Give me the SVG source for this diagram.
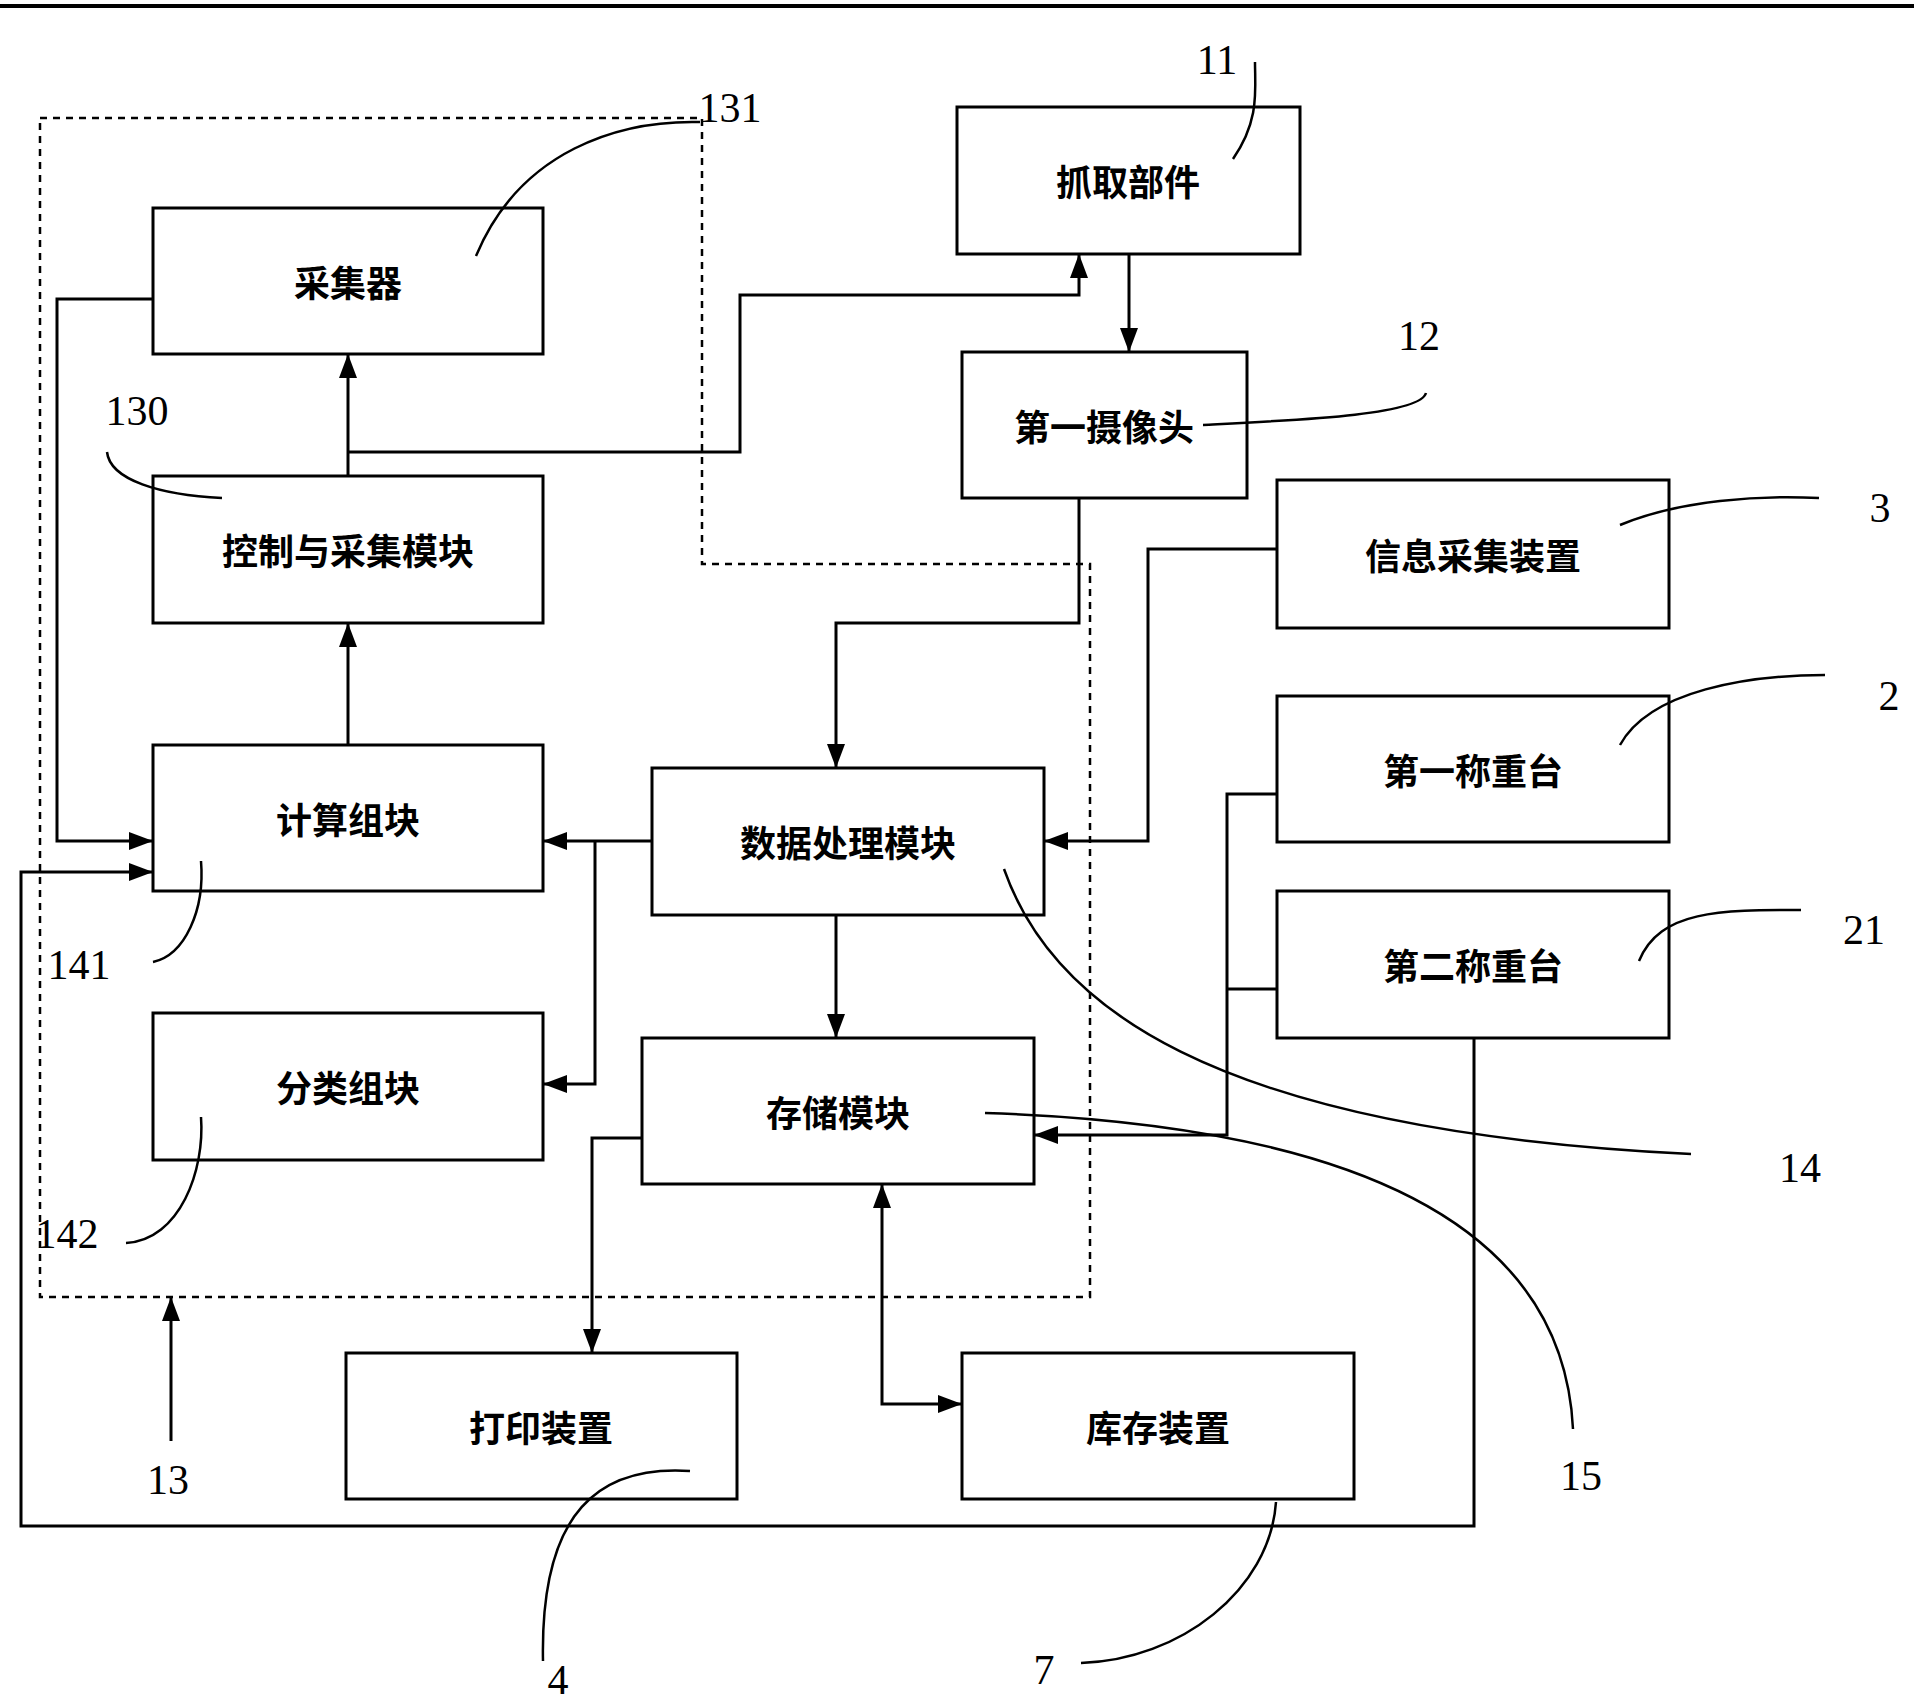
<svg xmlns="http://www.w3.org/2000/svg" width="1914" height="1702" viewBox="0 0 1914 1702">
<style>
.b{fill:#fff;stroke:#000;stroke-width:3}
.t{font-family:"Noto Sans CJK SC",sans-serif;font-weight:bold;font-size:36px;text-anchor:middle;dominant-baseline:central}
.n{font-family:"Liberation Serif",serif;font-size:42px;text-anchor:middle}
.c{fill:none;stroke:#000;stroke-width:3}
.l{fill:none;stroke:#000;stroke-width:2.5}
</style>
<defs>
<marker id="m" viewBox="0 0 24 18" refX="24" refY="9" markerWidth="24" markerHeight="18" markerUnits="userSpaceOnUse" orient="auto-start-reverse"><path d="M0,0 L24,9 L0,18 z"/></marker></defs>
<rect width="1914" height="1702" fill="#fff"/>
<line x1="0" y1="6" x2="1914" y2="6" stroke="#000" stroke-width="4"/>
<path d="M40,118 H702 V564 H1090 V1297 H40 Z" fill="none" stroke="#000" stroke-width="2.5" stroke-dasharray="7,6"/>
<g id="connectors">
<path class="c" marker-end="url(#m)" d="M348,476 V354"/>
<path class="c" marker-end="url(#m)" d="M348,745 V623"/>
<path class="c" marker-end="url(#m)" d="M348,452 H740 V295 H1079 V254"/>
<path class="c" marker-end="url(#m)" d="M1129,254 V352"/>
<path class="c" marker-end="url(#m)" d="M1079,498 V623 H836 V768"/>
<path class="c" marker-end="url(#m)" d="M1277,549 H1148 V841 H1044"/>
<path class="c" marker-end="url(#m)" d="M652,841 H543"/>
<path class="c" marker-end="url(#m)" d="M595,841 V1084 H543"/>
<path class="c" marker-end="url(#m)" d="M836,915 V1038"/>
<path class="c" marker-end="url(#m)" d="M153,299 H57 V841 H153"/>
<path class="c" marker-end="url(#m)" d="M1474,1038 V1526 H21 V872 H153"/>
<path class="c" marker-end="url(#m)" d="M1277,794 H1227 V1135 H1034"/>
<path class="c" d="M1277,989 H1227"/>
<path class="c" marker-end="url(#m)" d="M642,1138 H592 V1353"/>
<path class="c" marker-start="url(#m)" marker-end="url(#m)" d="M882,1184 V1404 H962"/>
<path class="c" marker-end="url(#m)" d="M171,1441 V1297"/>
</g>
<g id="n131"><rect class="b" x="153" y="208" width="390" height="146"/><text class="t" x="348" y="281">采集器</text></g>
<g id="n130"><rect class="b" x="153" y="476" width="390" height="147"/><text class="t" x="348" y="549">控制与采集模块</text></g>
<g id="n141"><rect class="b" x="153" y="745" width="390" height="146"/><text class="t" x="348" y="818">计算组块</text></g>
<g id="n142"><rect class="b" x="153" y="1013" width="390" height="147"/><text class="t" x="348" y="1086">分类组块</text></g>
<g id="n11"><rect class="b" x="957" y="107" width="343" height="147"/><text class="t" x="1128" y="180">抓取部件</text></g>
<g id="n12"><rect class="b" x="962" y="352" width="285" height="146"/><text class="t" x="1104" y="425">第一摄像头</text></g>
<g id="n3"><rect class="b" x="1277" y="480" width="392" height="148"/><text class="t" x="1473" y="554">信息采集装置</text></g>
<g id="n2"><rect class="b" x="1277" y="696" width="392" height="146"/><text class="t" x="1473" y="769">第一称重台</text></g>
<g id="n21"><rect class="b" x="1277" y="891" width="392" height="147"/><text class="t" x="1473" y="964">第二称重台</text></g>
<g id="n14"><rect class="b" x="652" y="768" width="392" height="147"/><text class="t" x="848" y="841">数据处理模块</text></g>
<g id="n15"><rect class="b" x="642" y="1038" width="392" height="146"/><text class="t" x="838" y="1111">存储模块</text></g>
<g id="n4"><rect class="b" x="346" y="1353" width="391" height="146"/><text class="t" x="541" y="1426">打印装置</text></g>
<g id="n7"><rect class="b" x="962" y="1353" width="392" height="146"/><text class="t" x="1158" y="1426">库存装置</text></g>
<g id="leaders">
<path class="l" d="M476,256 C520,150 620,120 700,122"/>
<path class="l" d="M1233,159 C1260,120 1255,90 1255,62"/>
<path class="l" d="M1203,425 C1300,420 1420,415 1426,393"/>
<path class="l" d="M107,452 C110,480 160,495 222,498"/>
<path class="l" d="M1620,525 C1680,500 1760,495 1819,498"/>
<path class="l" d="M1620,745 C1650,690 1750,675 1825,675"/>
<path class="l" d="M1639,961 C1660,910 1720,910 1801,910"/>
<path class="l" d="M1004,869 C1050,1000 1200,1130 1691,1154"/>
<path class="l" d="M985,1113 C1200,1120 1560,1160 1573,1429"/>
<path class="l" d="M201,861 C205,910 185,955 153,962"/>
<path class="l" d="M201,1117 C205,1170 180,1240 126,1243"/>
<path class="l" d="M690,1471 C600,1465 540,1510 543,1661"/>
<path class="l" d="M1276,1502 C1270,1590 1180,1660 1081,1663"/>
</g>
<g id="labels">
<text class="n" x="730" y="122">131</text>
<text class="n" x="1217" y="74">11</text>
<text class="n" x="1419" y="350">12</text>
<text class="n" x="137" y="425">130</text>
<text class="n" x="1880" y="522">3</text>
<text class="n" x="1889" y="710">2</text>
<text class="n" x="1864" y="944">21</text>
<text class="n" x="1800" y="1182">14</text>
<text class="n" x="1581" y="1490">15</text>
<text class="n" x="79" y="979">141</text>
<text class="n" x="67" y="1248">142</text>
<text class="n" x="168" y="1494">13</text>
<text class="n" x="558" y="1694">4</text>
<text class="n" x="1044" y="1684">7</text>
</g>
</svg>
